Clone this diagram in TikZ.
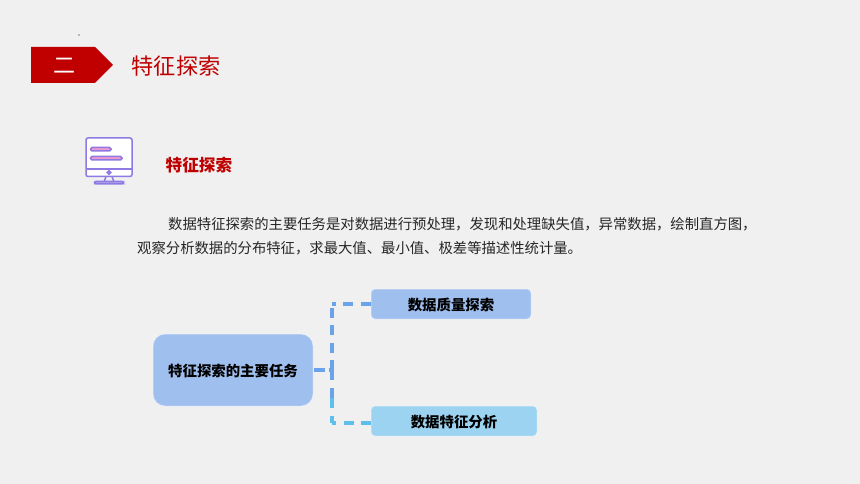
\documentclass[tikz,border=0pt]{standalone}
\usepackage{fontspec}
\setmainfont{Noto Sans CJK SC}
\usetikzlibrary{positioning}
\definecolor{slidegray}{rgb}{0.941, 0.941, 0.941}
\definecolor{chromared}{rgb}{0.753, 0, 0}
\definecolor{rootblue}{rgb}{0.624, 0.749, 0.933}
\definecolor{skyblue}{rgb}{0.608, 0.827, 0.941}
\definecolor{linkblue}{rgb}{0.420, 0.640, 0.920}
\definecolor{linksky}{rgb}{0.365, 0.750, 0.920}
\definecolor{iconviolet}{rgb}{0.560, 0.480, 0.890}
\definecolor{iconpink}{rgb}{0.930, 0.600, 0.820}
\tikzset{
    taskbox/.style={draw=white, draw opacity=0.35, line width=1pt, fill=rootblue, rounded corners=4pt, font=\fontsize{14.4}{16}\selectfont\bfseries, inner sep=0pt, text height=14pt, text depth=1pt},
    dashlink/.style={line width=3.05pt, dash pattern=on 10pt off 7.5pt},
    bodyline/.style={anchor=base west, inner sep=0pt, font=\fontsize{14.35}{17}\selectfont, text=black!85},
    headline/.style={anchor=base west, text=chromared, inner sep=0pt},
    iconline/.style={draw=iconviolet, line width=1.5pt}
}
\begin{document}
\begin{tikzpicture}[x=1pt, y=-1pt]
    \fill[slidegray] (0, 0) rectangle (860, 484);
    \useasboundingbox (0, 0) rectangle (860, 484);

    \fill[black!50] (79, 35) circle (0.8pt);

    \fill[chromared] (31, 47) -- (95, 47) -- (113, 65) -- (95, 83) -- (31, 83) -- cycle;
    \node[anchor=base, text=white, inner sep=0pt, font=\fontsize{22}{24}\selectfont] (Msec) at (64.5, 73.5) {二};
    \node[headline, font=\fontsize{22.2}{24}\selectfont] (Mtitle) at (131.5, 74.5) {特征探索};
    \node[headline, font=\fontsize{16.6}{18}\selectfont\bfseries] (Msub) at (165.5, 171.5) {特征探索};

    % monitor
    \draw[iconline, fill=white, rounded corners=2pt] (86, 138) rectangle (132, 176.5);
    \draw[iconline] (86, 169) -- (132, 169);
    \draw[iconline, fill=iconpink, rounded corners=1.5pt] (90.5, 147.5) rectangle (111, 151);
    \draw[iconline, fill=iconpink, rounded corners=1.5pt] (90.5, 156.5) rectangle (122, 160);
    \draw[iconline, fill=iconpink] (109, 172.5) circle (1.7pt);
    \draw[iconline] (106, 176.5) -- (104, 182) (112, 176.5) -- (114, 182);
    \draw[iconline, fill=iconviolet!70, rounded corners=1.5pt] (94.5, 181.5) rectangle (123.5, 184);

    \node[bodyline] (Mline1) at (168, 229.5) {数据特征探索的主要任务是对数据进行预处理^^^^ff0c发现和处理缺失值^^^^ff0c异常数据^^^^ff0c绘制直方图^^^^ff0c};
    \node[bodyline] (Mline2) at (137, 253.5) {观察分析数据的分布特征^^^^ff0c求最大值、最小值、极差等描述性统计量。};

    \node[taskbox, rounded corners=12pt, minimum width=160pt, minimum height=72pt] (Mroot) at (233, 370) {特征探索的主要任务};
    \node[taskbox, minimum width=160pt, minimum height=30pt] (Mqual) at (451, 304) {数据质量探索};
    \node[taskbox, fill=skyblue, minimum width=166pt, minimum height=30pt] (Mfeat) at (454, 421) {数据特征分析};

    \coordinate (Mjoin) at (332, 370);
    \coordinate (Mtop) at (332, 304);
    \coordinate (Mbot) at (332, 423);
    \coordinate (Mfeatin) at (371, 423);
    \coordinate (Mturn) at (332, 398);

    \draw[dashlink, linkblue, dash pattern=on 11pt off 4pt] (Mroot.east) -- (Mjoin);
    \draw[dashlink, linkblue] (Mjoin) -- (Mtop);
    \draw[dashlink, linkblue] (Mqual.west) -- (Mtop);
    \draw[dashlink, linkblue] (Mjoin) -- (Mturn);
    \draw[dashlink, linksky] (Mturn) -- (Mbot);
    \draw[dashlink, linksky] (Mfeatin) -- (Mbot);
\end{tikzpicture}
\end{document}
